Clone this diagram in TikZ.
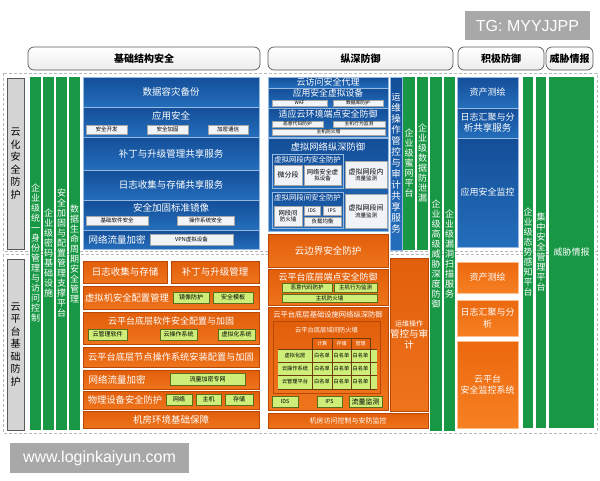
\documentclass[tikz,border=0pt]{standalone}
\usepackage{fontspec}
\setmainfont{Noto Sans CJK SC}
\newfontfamily\wmfont{Liberation Sans}
\ExplSyntaxOn
\tl_new:N \l_vtx_tl
\NewDocumentCommand\vtxt{m}{
  \tl_clear:N \l_vtx_tl
  \tl_map_inline:nn {#1}{
    \tl_if_empty:NF \l_vtx_tl {\tl_put_right:Nn \l_vtx_tl {\\}}
    \tl_put_right:Nn \l_vtx_tl {##1}
  }
  \tl_use:N \l_vtx_tl
}
\ExplSyntaxOff
\newcommand\fsz[2]{\fontsize{#1}{#2}\selectfont}
\newcommand\mybox[7]{\node[#2,minimum width={(#5)-(#3)},minimum height={(#6)-(#4)}] (#1) at ({((#3)+(#5))/2},{((#4)+(#6))/2}) {#7};}
\definecolor{cBlueT}{RGB}{20,78,152}
\definecolor{cBlueB}{RGB}{36,110,188}
\definecolor{cBlueLine}{RGB}{150,185,225}
\definecolor{cOrT}{RGB}{226,94,10}
\definecolor{cOrB}{RGB}{238,116,28}
\definecolor{cOrLine}{RGB}{185,72,5}
\definecolor{cOr}{RGB}{230,100,16}
\definecolor{cOr2T}{RGB}{236,104,14}
\definecolor{cOr2B}{RGB}{246,128,34}
\definecolor{cOr2Line}{RGB}{250,190,140}
\definecolor{cGr}{RGB}{24,152,68}
\definecolor{cLG}{RGB}{205,238,120}
\definecolor{cLGLine}{RGB}{90,110,30}
\definecolor{cTab}{RGB}{110,60,10}
\definecolor{cGray}{RGB}{212,212,212}
\definecolor{cWm}{RGB}{168,168,168}
\definecolor{cWS}{RGB}{240,243,248}
\tikzset{
 bx0/.style={inner sep=0pt, outer sep=0pt, align=center},
 bb/.style={bx0, top color=cBlueT, bottom color=cBlueB, draw=cBlueLine, line width=0.7pt, text=white, font=\fsz{9.5}{11}},
 pb/.style={bx0, top color=cBlueT, bottom color=cBlueB, draw=cBlueLine, line width=0.6pt},
 ob/.style={bx0, top color=cOrT, bottom color=cOrB, draw=cOrLine, line width=0.6pt, text=white, font=\fsz{9.5}{11}},
 ob2/.style={bx0, top color=cOr2T, bottom color=cOr2B, draw=cOr2Line, line width=0.6pt, text=white, font=\fsz{9}{11.5}},
 gb/.style={bx0, fill=cGr, text=white, font=\fsz{9}{10}},
 ws/.style={bx0, fill=cWS, draw=gray!70, line width=0.4pt, text=black, font=\fsz{5.5}{6.5}},
 ls/.style={bx0, fill=cLG, draw=cLGLine, line width=0.4pt, text=black, font=\fsz{6}{7}},
 gl/.style={bx0, fill=cGray, draw=gray!70!black, line width=0.7pt, text=black, font=\fsz{10}{12.5}},
 hd/.style={bx0, rounded corners=6pt, draw=gray!70!black, top color=white, bottom color=gray!15, line width=0.7pt, text=black, font=\fsz{10}{12}\bfseries},
 tw/.style={bx0, text=white},
 tk/.style={bx0, text=black},
 wm/.style={bx0, fill=cWm, text=white, font=\wmfont\fsz{16}{18}},
 dsh/.style={draw=gray!55, line width=0.9pt, dash pattern=on 3pt off 2pt},
 tcell/.style={bx0, fill=cOr, draw=cTab, line width=0.5pt, text=white, font=\fsz{5}{6}},
 tabtxt/.style={bx0, text=black, font=\fsz{5.2}{6}},
}
\begin{document}
\begin{tikzpicture}[x=1pt,y=-1pt]
\useasboundingbox (0,0) rectangle (600,480);
\fill[white] (0,0) rectangle (600,480);
% watermarks
\mybox{wma}{wm}{465}{11}{590}{40}{TG: MYYJJPP}
\mybox{wmb}{wm}{10}{443}{189}{473}{www.loginkaiyun.com}
% headers
\mybox{h1}{hd}{28}{47}{260}{70}{基础结构安全}
\mybox{h2}{hd}{268}{47}{453}{70}{纵深防御}
\mybox{h3}{hd}{458}{47}{544}{70}{积极防御}
\mybox{h4}{hd}{546}{47}{593}{70}{威胁情报}
% dashed frames
\draw[dsh] (3,73) rectangle (597,251);
\draw[dsh] (3,254) rectangle (597,433);
% gray labels
\mybox{g1}{gl}{7}{78}{24}{249}{\vtxt{云化安全防护}}
\mybox{g2}{gl}{7}{259}{24}{430}{\vtxt{云平台基础防护}}
% left green columns
\mybox{lg1}{gb}{30}{77}{41}{430}{\vtxt{企业级统一身份管理与访问控制}}
\mybox{lg2}{gb}{43}{77}{54}{430}{\vtxt{企业级密码基础设施}}
\mybox{lg3}{gb}{56}{77}{67}{430}{\vtxt{安全加固与配置管理支撑平台}}
\mybox{lg4}{gb}{69}{77}{80}{430}{\vtxt{数据生命周期安全管理}}
% left blue
\mybox{b1}{bb}{83}{77}{259}{107}{数据容灾备份}
\mybox{b2}{bb}{83}{107}{259}{137}{}
\node[tw,font=\fsz{9.5}{11}] (b2t) at (171,116) {应用安全};
\mybox{b2a}{ws}{86}{125}{127}{134}{安全开发}
\mybox{b2b}{ws}{147}{125}{188}{134}{安全加固}
\mybox{b2c}{ws}{208}{125}{248}{134}{加密通信}
\mybox{b3}{bb}{83}{137}{259}{170}{补丁与升级管理共享服务}
\mybox{b4}{bb}{83}{170}{259}{200}{日志收集与存储共享服务}
\mybox{b5}{bb}{83}{200}{259}{230}{}
\node[tw,font=\fsz{9.5}{11}] (b5t) at (171,208) {安全加固标准镜像};
\mybox{b5a}{ws}{86}{216}{148}{225}{基础软件安全}
\mybox{b5b}{ws}{177}{216}{234}{225}{操作系统安全}
\mybox{b6}{bb}{83}{230}{259}{249}{}
\node[tw,font=\fsz{9.5}{11}] (b6t) at (117,239.5) {网络流量加密};
\mybox{b6a}{ws}{150}{234}{233}{245}{VPN虚拟设备}
% left orange
\mybox{o1a}{ob}{83}{261}{167}{283}{日志收集与存储}
\mybox{o1b}{ob}{171}{261}{259}{283}{补丁与升级管理}
\mybox{o2}{ob}{83}{286}{259}{309}{}
\node[tw,font=\fsz{9.3}{11}] (o2t) at (127,297.5) {虚拟机安全配置管理};
\mybox{o2a}{ls}{173}{292}{209}{303}{镜像防护}
\mybox{o2b}{ls}{213}{292}{253}{303}{安全模板}
\mybox{o3}{ob}{83}{312}{259}{344}{}
\node[tw,font=\fsz{9}{11}] (o3t) at (171,321) {云平台底层软件安全配置与加固};
\mybox{o3a}{ls}{88}{329}{127}{340}{云管理软件}
\mybox{o3b}{ls}{160}{329}{197}{340}{云操作系统}
\mybox{o3c}{ls}{218}{329}{255}{340}{虚拟化系统}
\mybox{o4}{ob}{83}{347}{259}{367}{\fsz{9.2}{11}云平台底层节点操作系统安装配置与加固}
\mybox{o5}{ob}{83}{370}{259}{389}{}
\node[tw,font=\fsz{9.5}{11}] (o5t) at (117,379.5) {网络流量加密};
\mybox{o5a}{ls}{170}{373}{245}{385}{流量加密专网}
\mybox{o6}{ob}{83}{391}{259}{409}{}
\node[tw,font=\fsz{9.3}{11}] (o6t) at (125,400) {物理设备安全防护};
\mybox{o6a}{ls}{166}{394}{192}{405}{网络}
\mybox{o6b}{ls}{196}{394}{221}{405}{主机}
\mybox{o6c}{ls}{225}{394}{253}{405}{存储}
\mybox{o7}{ob}{83}{411}{259}{428}{机房环境基础保障}
% middle blue
\mybox{m1}{bb}{268}{77}{388}{88}{}
\node[tw,font=\fsz{9}{10}] (m1t) at (328,82.5) {云访问安全代理};
\mybox{m2}{bb}{268}{88}{388}{108}{}
\node[tw,font=\fsz{8.8}{10}] (m2t) at (328,93.5) {应用安全虚拟设备};
\mybox{m2a}{ws}{272}{100}{327}{106}{\fsz{4.8}{5}WAF}
\mybox{m2b}{ws}{333}{100}{383}{106}{\fsz{4.8}{5}数据库防护}
\mybox{m3}{bb}{268}{108}{388}{137}{}
\node[tw,font=\fsz{9}{10}] (m3t) at (328,114.5) {适应云环境端点安全防御};
\mybox{m3a}{ws}{272}{121}{323}{127}{\fsz{4.8}{5}恶意代码防护}
\mybox{m3b}{ws}{333}{121}{385}{127}{\fsz{4.8}{5}主机行为监测}
\mybox{m3c}{ws}{272}{129}{385}{135}{\fsz{4.8}{5}主机防火墙}
\mybox{m4}{bb}{268}{138}{388}{231}{}
\node[tw,font=\fsz{9.3}{10}] (m4t) at (328,147) {虚拟网络纵深防御};
\mybox{p1}{pb}{272}{154}{343}{188}{}
\node[tw,font=\fsz{7.4}{9}] (p1t) at (307.5,159.5) {虚拟网段内安全防护};
\mybox{p1a}{ws}{274}{165}{302}{185}{\fsz{7}{8}微分段}
\mybox{p1b}{ws}{304}{165}{341}{185}{\fsz{6.3}{7.5}网络安全虚\\拟设备}
\mybox{w1}{ws}{345}{161}{387}{188}{\fsz{7}{9}虚拟网段内\\流量监测}
\mybox{p2}{pb}{272}{192}{343}{228}{}
\node[tw,font=\fsz{7.4}{9}] (p2t) at (307.5,197.5) {虚拟网段间安全防护};
\mybox{p2a}{ws}{274}{206}{302}{226}{\fsz{6.3}{7.5}网段间\\防火墙}
\mybox{p2b}{ws}{304}{206}{320}{215}{\fsz{5}{6}IDS}
\mybox{p2c}{ws}{323}{206}{341}{215}{\fsz{5}{6}IPS}
\mybox{p2d}{ws}{304}{217}{341}{226}{\fsz{5.5}{6}负载均衡}
\mybox{w2}{ws}{345}{194}{387}{228}{\fsz{7}{9}虚拟网段间\\流量监测}
% middle orange
\mybox{m5}{ob}{268}{234}{388}{267}{云边界安全防护}
\mybox{m6}{ob}{268}{269}{388}{305}{}
\node[tw,font=\fsz{9}{10}] (m6t) at (328,277) {云平台底层端点安全防御};
\mybox{m6a}{ls}{282}{283}{332}{292}{\fsz{5.5}{6}恶意代码防护}
\mybox{m6b}{ls}{334}{283}{377}{292}{\fsz{5.5}{6}主机行为监测}
\mybox{m6c}{ls}{282}{294}{377}{302}{\fsz{5.5}{6}主机防火墙}
\mybox{m7}{ob}{268}{307}{388}{410}{}
\node[tw,font=\fsz{7.3}{9}] (m7t) at (328,314.5) {云平台底层基础设施网络纵深防御};
\mybox{m7p}{ob}{273}{321}{380}{393}{}
\node[tw,font=\fsz{6.3}{8}] (m7pt) at (326.5,330) {云平台底层域间防火墙};
\fill[cLG] (278,349) rectangle (377,389);
\mybox{tc1}{tcell}{312}{338}{332}{349}{计算}
\mybox{tc2}{tcell}{332}{338}{351}{349}{存储}
\mybox{tc3}{tcell}{351}{338}{370}{349}{管理}
\draw[cTab,line width=0.5pt] (312,349) -- (312,389) (332,349) -- (332,389) (351,349) -- (351,389) (370,349) -- (370,389)
  (278,362) -- (377,362) (278,375) -- (377,375) (278,349) -- (377,349) (278,389) -- (377,389);
\node[tabtxt] (r1l) at (295,356) {虚拟化层};
\node[tabtxt] (r2l) at (295,368.5) {云操作系统};
\node[tabtxt] (r3l) at (295,382) {云管理平台};
\node[tabtxt] (c11) at (322,356) {白名单};
\node[tabtxt] (c12) at (341.5,356) {白名单};
\node[tabtxt] (c13) at (360.5,356) {白名单};
\node[tabtxt] (c21) at (322,368.5) {白名单};
\node[tabtxt] (c22) at (341.5,368.5) {白名单};
\node[tabtxt] (c23) at (360.5,368.5) {白名单};
\node[tabtxt] (c31) at (322,382) {白名单};
\node[tabtxt] (c32) at (341.5,382) {白名单};
\node[tabtxt] (c33) at (360.5,382) {白名单};
\mybox{m7a}{ls}{272}{396}{298}{407}{\fsz{5.5}{6}IDS}
\mybox{m7b}{ls}{317}{396}{342}{407}{\fsz{5.5}{6}IPS}
\mybox{m7c}{ls}{349}{396}{382}{407}{\fsz{7}{8}流量监测}
\mybox{m8}{ob}{268}{413}{428}{428}{\fsz{7}{8}机房访问控制与安防监控}
% middle vertical columns
\mybox{v1}{bb}{390}{77}{402}{250}{\fsz{9}{10}\vtxt{运维操作管控与审计共享服务}}
\mybox{v2}{ob}{390}{258}{428}{411}{\fsz{7}{9}运维操作\\管控与审\\计}
\mybox{mg1}{gb}{403}{77}{415}{250}{\vtxt{企业级蜜网平台}}
\mybox{mg2}{gb}{417}{77}{428}{250}{\vtxt{企业级数据防泄漏}}
\mybox{mg3}{gb}{430}{77}{442}{431}{\vtxt{企业级高级威胁深度防御}}
\mybox{mg4}{gb}{444}{77}{455}{431}{\vtxt{企业级漏洞扫描服务}}
% right
\mybox{r1}{bb}{457}{77}{518}{108}{\fsz{9}{11}资产测绘}
\mybox{r2}{bb}{457}{108}{518}{138}{\fsz{9}{11.5}日志汇聚与分\\析共享服务}
\mybox{r3}{bb}{457}{138}{518}{247}{\fsz{9}{11}应用安全监控}
\mybox{r4}{ob2}{457}{262}{518}{293}{资产测绘}
\mybox{r5}{ob2}{457}{300}{518}{336}{日志汇聚与分\\析}
\mybox{r6}{ob2}{457}{341}{518}{428}{云平台\\安全监控系统}
\mybox{rg1}{gb}{523}{77}{533}{428}{\vtxt{企业级态势感知平台}}
\mybox{rg2}{gb}{536}{77}{546}{428}{\vtxt{集中安全管理平台}}
\mybox{rg3}{gb}{549}{77}{594}{428}{威胁情报}
\end{tikzpicture}
\end{document}
